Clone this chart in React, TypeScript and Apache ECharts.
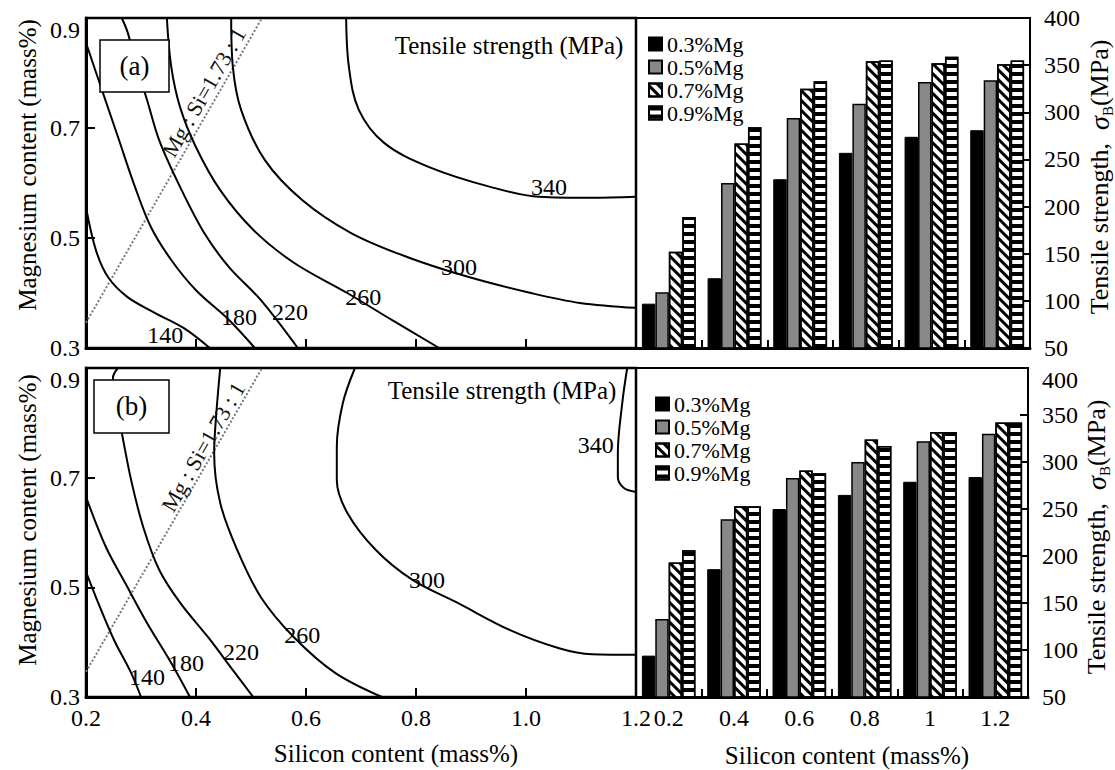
import React, { useEffect, useRef } from 'react';
import * as echarts from 'echarts';

const FONT = '"Liberation Serif", "Times New Roman", serif';

// ---------- Bar charts (right panels) ----------
const siCategories = ['0.2', '0.4', '0.6', '0.8', '1', '1.2'];
const mgSeriesNames = ['0.3%Mg', '0.5%Mg', '0.7%Mg', '0.9%Mg'];

// panel (a)
const barsA03 = [97, 124, 229, 257, 274, 281];
const barsA05 = [109, 225, 294, 309, 332, 334];
const barsA07 = [152, 267, 325, 354, 352, 351];
const barsA09 = [189, 284, 333, 355, 359, 355];
// panel (b)
const barsB03 = [94, 186, 250, 265, 279, 284];
const barsB05 = [133, 239, 283, 300, 322, 330];
const barsB07 = [193, 253, 291, 324, 332, 342];
const barsB09 = [206, 253, 288, 317, 332, 342];

// ---------- Contour maps (left panels), points are [Si, Mg] ----------
const mgTickValues = [0.3, 0.5, 0.7, 0.9];
const mgInnerTicks = [0.5, 0.7];

const contourA140 = [[0.2, 0.556], [0.218, 0.478], [0.24, 0.429], [0.275, 0.393], [0.325, 0.364], [0.378, 0.336], [0.425, 0.3]];
const contourA180 = [[0.2, 0.855], [0.229, 0.769], [0.258, 0.684], [0.289, 0.593], [0.318, 0.52], [0.355, 0.46], [0.4, 0.405], [0.46, 0.351], [0.507, 0.3]];
const contourA220 = [[0.265, 0.9], [0.276, 0.873], [0.291, 0.815], [0.311, 0.751], [0.333, 0.678], [0.371, 0.593], [0.415, 0.509], [0.46, 0.447], [0.518, 0.387], [0.585, 0.3]];
const contourA260 = [[0.347, 0.9], [0.355, 0.811], [0.371, 0.738], [0.4, 0.665], [0.444, 0.587], [0.504, 0.515], [0.578, 0.455], [0.675, 0.4], [0.756, 0.351], [0.842, 0.3]];
const contourA300 = [[0.464, 0.9], [0.467, 0.811], [0.482, 0.733], [0.525, 0.642], [0.593, 0.569], [0.682, 0.509], [0.785, 0.465], [0.896, 0.429], [1.009, 0.4], [1.098, 0.382], [1.2, 0.373]];
const contourA340 = [[0.673, 0.9], [0.678, 0.811], [0.696, 0.733], [0.742, 0.673], [0.824, 0.629], [0.935, 0.593], [1.024, 0.575], [1.12, 0.573], [1.2, 0.575]];

const contourB140 = [[0.2, 0.528], [0.222, 0.472], [0.251, 0.404], [0.282, 0.344], [0.3, 0.3]];
const contourB180 = [[0.2, 0.665], [0.236, 0.574], [0.275, 0.501], [0.311, 0.435], [0.355, 0.362], [0.389, 0.3]];
const contourB220 = [[0.258, 0.9], [0.249, 0.882], [0.253, 0.842], [0.265, 0.782], [0.282, 0.696], [0.304, 0.61], [0.333, 0.532], [0.371, 0.472], [0.422, 0.409], [0.467, 0.349], [0.504, 0.3]];
const contourB260 = [[0.444, 0.9], [0.436, 0.805], [0.433, 0.745], [0.444, 0.654], [0.475, 0.568], [0.518, 0.482], [0.578, 0.409], [0.653, 0.344], [0.738, 0.3]];
const contourB300 = [[0.689, 0.9], [0.667, 0.836], [0.656, 0.756], [0.656, 0.696], [0.675, 0.636], [0.727, 0.568], [0.793, 0.514], [0.875, 0.472], [0.971, 0.422], [1.06, 0.389], [1.12, 0.378], [1.2, 0.377]];
const contourB340 = [[1.184, 0.9], [1.175, 0.836], [1.167, 0.745], [1.167, 0.701], [1.178, 0.681], [1.2, 0.674]];

// contour level labels: [Si, Mg, level]
const contourLabelsA = [[0.344, 0.324, 140], [0.478, 0.356, 180], [0.571, 0.365, 220], [0.704, 0.393, 260], [0.878, 0.447, 300], [1.042, 0.593, 340]];
const contourLabelsB = [[0.311, 0.336, 140], [0.382, 0.362, 180], [0.482, 0.382, 220], [0.593, 0.413, 260], [0.82, 0.514, 300], [1.127, 0.76, 340]];

// Mg : Si = 1.73 : 1 line
const ratioLine = [[0.2, 0.346], [0.52, 0.9]];
const ratioLabelA = [0.4145, 0.765];
const ratioLabelB = [0.413, 0.756];

function buildOption() {
  const contourGridA = { left: 86, top: 18, width: 550, height: 330 };
  const barGridA = { left: 636, top: 18, width: 394, height: 330 };
  const contourGridB = { left: 86, top: 368, width: 550, height: 329 };
  const barGridB = { left: 636, top: 368, width: 392, height: 329 };

  const gridCommon = { show: true, borderColor: '#000', borderWidth: 2.5, backgroundColor: 'transparent' };

  const tickLabel = { fontSize: 24, fontFamily: FONT, color: '#000' };

  const contourX = (gi: number, showLabel: boolean) => ({
    gridIndex: gi, type: 'value', min: 0.2, max: 1.2, interval: 0.2,
    axisLine: { show: true, lineStyle: { color: '#000', width: 3 } },
    axisTick: { show: true, inside: true, length: 9, lineStyle: { color: '#000', width: 2 } },
    axisLabel: { show: showLabel, ...tickLabel, margin: 9, formatter: (v: number) => v.toFixed(1) },
    splitLine: { show: false },
  });
  const contourY = (gi: number) => ({
    gridIndex: gi, type: 'value', min: 0.3, max: 0.9,
    axisLine: { show: true, lineStyle: { color: '#000', width: 3 } },
    axisTick: { show: true, inside: true, length: 9, customValues: mgInnerTicks, lineStyle: { color: '#000', width: 2 } },
    axisLabel: { show: true, ...tickLabel, margin: 6, customValues: mgTickValues, verticalAlignMaxLabel: 'top', formatter: (v: number) => v.toFixed(1) },
    splitLine: { show: false },
  });
  const barX = (gi: number, showLabel: boolean) => ({
    gridIndex: gi, type: 'category', data: siCategories,
    axisLine: { show: true, lineStyle: { color: '#000', width: 3 } },
    axisTick: { show: true, inside: true, length: 8, interval: 0, lineStyle: { color: '#000', width: 2 } },
    axisLabel: { show: showLabel, ...tickLabel, margin: 9, interval: 0 },
    splitLine: { show: false },
  });
  const barY = (gi: number, topAlignMax: boolean) => ({
    gridIndex: gi, type: 'value', position: 'right', min: 50, max: 400, interval: 50,
    axisLine: { show: true, lineStyle: { color: '#000', width: 2 } },
    axisTick: { show: true, inside: true, length: 8, lineStyle: { color: '#000', width: 2 } },
    axisLabel: { show: true, ...tickLabel, margin: 14, ...(topAlignMax ? { verticalAlignMaxLabel: 'top' } : {}) },
    splitLine: { show: false },
  });

  const contourLine = (data: number[][], xi: number) => ({
    type: 'line', xAxisIndex: xi, yAxisIndex: xi, data, symbol: 'none', showSymbol: false,
    smooth: 0.35, silent: true, z: 3,
    lineStyle: { color: '#000', width: 2 },
  });
  const ratioSeries = (xi: number) => ({
    type: 'line', xAxisIndex: xi, yAxisIndex: xi, data: ratioLine, symbol: 'none', showSymbol: false,
    silent: true, z: 2, lineStyle: { color: '#777', width: 2, type: 'dotted' },
  });
  const ratioText = (xi: number, pt: number[]) => ({
    type: 'scatter', xAxisIndex: xi, yAxisIndex: xi, data: [pt], symbolSize: 0, silent: true, z: 4,
    itemStyle: { color: '#000', opacity: 0 },
    label: {
      show: true, position: 'inside', rotate: 60, formatter: 'Mg : Si=1.73 : 1', fontSize: 22,
      fontFamily: FONT, color: '#111', textBorderWidth: 0, opacity: 1,
    },
  });
  const levelLabels = (xi: number, data: number[][]) => ({
    type: 'scatter', xAxisIndex: xi, yAxisIndex: xi, data, symbolSize: 0, silent: true, z: 5,
    itemStyle: { color: '#000', opacity: 0 },
    label: {
      show: true, position: 'inside', formatter: (p: any) => String(p.value[2]), fontSize: 24,
      fontFamily: FONT, color: '#000', textBorderWidth: 0, opacity: 1,
    },
  });

  const barStyles: any[] = [
    { color: '#000', borderColor: '#000', borderWidth: 1 },
    { color: '#888', borderColor: '#000', borderWidth: 1.5 },
    { color: '#fff', borderColor: '#000', borderWidth: 1.5, decal: { symbol: 'rect', symbolSize: 1, color: '#000', dashArrayX: [1, 0], dashArrayY: [3, 4], rotation: Math.PI / 4 } },
    { color: '#fff', borderColor: '#000', borderWidth: 1.5, decal: { symbol: 'rect', symbolSize: 1, color: '#000', dashArrayX: [1, 0], dashArrayY: [3.5, 3.5], rotation: 0 } },
  ];
  const barSet = (xi: number, sets: number[][]) => sets.map((d, i) => ({
    type: 'bar', name: mgSeriesNames[i], xAxisIndex: xi, yAxisIndex: xi, data: d,
    barGap: '0%', barCategoryGap: '18%', itemStyle: barStyles[i], silent: true,
  }));

  const legendCommon = {
    data: mgSeriesNames, orient: 'vertical', itemWidth: 13, itemHeight: 13, padding: 0, itemGap: 1,
    icon: 'rect', selectedMode: false,
    textStyle: { fontSize: 22, fontFamily: FONT, color: '#000' },
  };

  const txt = (x: number, y: number, text: string, size: number, rotation = 0) => ({
    type: 'text', x, y, rotation, z: 100,
    style: { text, fontSize: size, fontFamily: FONT, fill: '#000', align: 'center', verticalAlign: 'middle' },
  });
  const sigmaTitle = (x: number, y: number) => ({
    type: 'text', x, y, rotation: Math.PI / 2, z: 100,
    style: {
      text: '{n|Tensile strength,  }{s|σ}{b|B}{n|(MPa)}',
      fontSize: 26, fontFamily: FONT, fill: '#000', align: 'center', verticalAlign: 'middle',
      rich: {
        n: { fontSize: 26, fontFamily: FONT, lineHeight: 32, verticalAlign: 'middle' },
        s: { fontSize: 28, fontStyle: 'italic', fontFamily: FONT, lineHeight: 32, verticalAlign: 'middle' },
        b: { fontSize: 15, fontFamily: FONT, lineHeight: 15, verticalAlign: 'bottom' },
      },
    },
  });

  return {
    animation: false,
    backgroundColor: '#fff',
    grid: [
      { ...gridCommon, ...contourGridA },
      { ...gridCommon, borderWidth: 2, ...barGridA },
      { ...gridCommon, ...contourGridB },
      { ...gridCommon, borderWidth: 2, ...barGridB },
    ],
    xAxis: [contourX(0, false), barX(1, false), contourX(2, true), barX(3, true)],
    yAxis: [contourY(0), barY(1, false), contourY(2), barY(3, true)],
    legend: [
      { ...legendCommon, left: 648, top: 33 },
      { ...legendCommon, left: 655, top: 393 },
    ],
    series: [
      ratioSeries(0),
      contourLine(contourA140, 0), contourLine(contourA180, 0), contourLine(contourA220, 0),
      contourLine(contourA260, 0), contourLine(contourA300, 0), contourLine(contourA340, 0),
      levelLabels(0, contourLabelsA), ratioText(0, ratioLabelA),
      ...barSet(1, [barsA03, barsA05, barsA07, barsA09]),
      ratioSeries(2),
      contourLine(contourB140, 2), contourLine(contourB180, 2), contourLine(contourB220, 2),
      contourLine(contourB260, 2), contourLine(contourB300, 2), contourLine(contourB340, 2),
      levelLabels(2, contourLabelsB), ratioText(2, ratioLabelB),
      ...barSet(3, [barsB03, barsB05, barsB07, barsB09]),
    ],
    graphic: [
      { type: 'rect', z: 90, shape: { x: 100, y: 40, width: 69, height: 52 }, style: { fill: '#fff', stroke: '#000', lineWidth: 1.5 } },
      txt(134.5, 66, '(a)', 27),
      { type: 'rect', z: 90, shape: { x: 94, y: 380, width: 75, height: 53 }, style: { fill: '#fff', stroke: '#000', lineWidth: 1.5 } },
      txt(131.5, 406, '(b)', 27),
      txt(509, 45, 'Tensile strength (MPa)', 25),
      txt(502, 390, 'Tensile strength (MPa)', 25),
      txt(27, 165, 'Magnesium content (mass%)', 25, Math.PI / 2),
      txt(27, 520, 'Magnesium content (mass%)', 25, Math.PI / 2),
      txt(396, 753, 'Silicon content (mass%)', 25),
      txt(847, 755, 'Silicon content (mass%)', 25),
      sigmaTitle(1099, 177),
      sigmaTitle(1096, 537),
    ],
  };
}

export default function App() {
  const ref = useRef<HTMLDivElement>(null);
  useEffect(() => {
    if (!ref.current) return;
    const chart = echarts.init(ref.current, null, { renderer: 'svg' });
    chart.setOption(buildOption() as any);
    return () => chart.dispose();
  }, []);
  return (
    <div
      ref={ref}
      style={{ position: 'absolute', left: 0, top: 0, width: 1115, height: 770, background: '#fff' }}
    />
  );
}
